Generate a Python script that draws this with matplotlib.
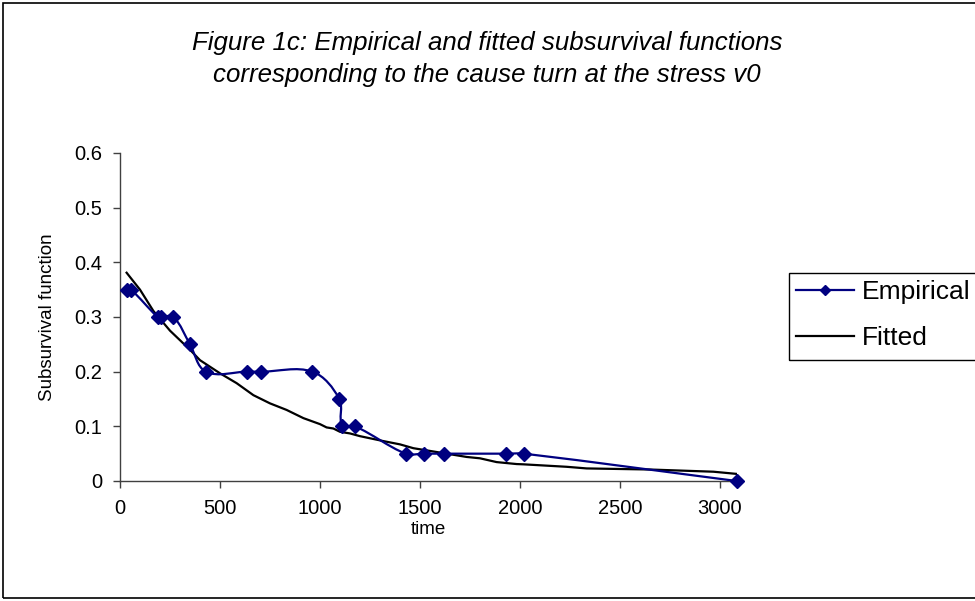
import numpy as np
import matplotlib
matplotlib.use("Agg")
import matplotlib.pyplot as plt
from matplotlib.path import Path
from matplotlib.patches import PathPatch, Rectangle
from matplotlib.lines import Line2D

plt.rcParams['font.family'] = ['Liberation Sans', 'DejaVu Sans']

# empirical subsurvival function (markers)
emp_time = [33, 55, 188, 205, 267, 350, 430, 635, 707, 962, 1097, 1112, 1175,
            1428, 1520, 1622, 1930, 2020, 3083]
emp_value = [0.35, 0.35, 0.30, 0.30, 0.30, 0.25, 0.20, 0.20, 0.20, 0.20, 0.15,
             0.10, 0.10, 0.05, 0.05, 0.05, 0.05, 0.05, 0.0]

# fitted subsurvival function
fit_time = [33, 100, 167, 250, 350, 400, 500, 583, 667, 750, 833, 917, 1000,
            1033, 1067, 1100, 1150, 1200, 1317, 1400, 1467, 1567, 1733, 1800,
            1883, 1983, 2017, 2233, 2333, 2650, 2967, 3083]
fit_value = [0.381, 0.350, 0.311, 0.275, 0.240, 0.221, 0.197, 0.179, 0.157,
             0.142, 0.130, 0.115, 0.104, 0.098, 0.096, 0.090, 0.087, 0.082,
             0.073, 0.067, 0.060, 0.054, 0.044, 0.0415, 0.0346, 0.031, 0.0305,
             0.026, 0.023, 0.021, 0.017, 0.013]

xmax, ymax = 3085, 0.6

fig = plt.figure(figsize=(9.75, 6.01), dpi=100)
W, H = 975, 601
ax = fig.add_axes([120 / W, (H - 481) / H, (737 - 120) / W, (481 - 153) / H])


def smooth_path(xs, ys, sx, sy, k=1 / 3):
    # excel-like smoothed line: bezier segments with tangents from neighbours
    p = np.column_stack([np.asarray(xs) * sx, np.asarray(ys) * sy])
    n = len(p)
    d = np.zeros_like(p)
    for i in range(n):
        a = p[max(i - 1, 0)]
        b = p[min(i + 1, n - 1)]
        v = b - a
        nv = np.hypot(*v)
        d[i] = v / nv if nv > 0 else 0
    verts = [p[0]]
    codes = [Path.MOVETO]
    for i in range(n - 1):
        L = np.hypot(*(p[i + 1] - p[i]))
        verts += [p[i] + d[i] * L * k, p[i + 1] - d[i + 1] * L * k, p[i + 1]]
        codes += [Path.CURVE4] * 3
    verts = np.array(verts)
    verts[:, 0] /= sx
    verts[:, 1] /= sy
    return Path(verts, codes)


sx = (737 - 120) / xmax
sy = (481 - 153) / ymax
emp_color = '#000080'
ax.add_patch(PathPatch(smooth_path(emp_time, emp_value, sx, sy), fill=False,
                       edgecolor=emp_color, lw=1.6, zorder=3))
ax.plot(emp_time, emp_value, linestyle='none', marker='D', markersize=7,
        color=emp_color, zorder=4, clip_on=False)
ax.plot(fit_time, fit_value, color='black', lw=1.6, zorder=2)

ax.set_xlim(0, xmax)
ax.set_ylim(0, ymax)
ax.set_xticks(np.arange(0, 3001, 500))
ax.set_yticks(np.arange(0, 0.61, 0.1))
ax.set_yticklabels(['0', '0.1', '0.2', '0.3', '0.4', '0.5', '0.6'])
for s in ['top', 'right']:
    ax.spines[s].set_visible(False)
for s in ['left', 'bottom']:
    ax.spines[s].set_color('#404040')
    ax.spines[s].set_linewidth(1.0)
ax.tick_params(direction='out', length=5, width=1.0, color='#404040',
               labelsize=14.5, pad=8)
ax.set_xlabel('time', fontsize=13.5, labelpad=2)
ax.set_ylabel('Subsurvival function', fontsize=13.5, labelpad=13)

fig.text(487 / W, 1 - 59 / H,
         'Figure 1c: Empirical and fitted subsurvival functions\n'
         'corresponding to the cause turn at the stress v0',
         ha='center', va='center', style='italic', fontsize=18.6,
         linespacing=1.42)

# outer chart frame
fig.patches.append(Rectangle((3 / W, 3 / H), 1.2, 1 - 6 / H,
                             transform=fig.transFigure, fill=False,
                             edgecolor='black', lw=1.2))

# legend box
fig.patches.append(Rectangle((789 / W, 1 - 360 / H), 0.3, 87 / H,
                             transform=fig.transFigure, fill=False,
                             edgecolor='black', lw=1.0))
handles = [Line2D([], [], color=emp_color, lw=1.6, marker='D', markersize=5.5),
           Line2D([], [], color='black', lw=1.6)]
fig.legend(handles, ['Empirical', 'Fitted'], loc='center left',
           bbox_to_anchor=(796 / W, 1 - 315 / H), frameon=False,
           fontsize=19, handlelength=2.2, handletextpad=0.3,
           labelspacing=0.85, borderpad=0.0, borderaxespad=0)

fig.savefig('out.png', dpi=100)
